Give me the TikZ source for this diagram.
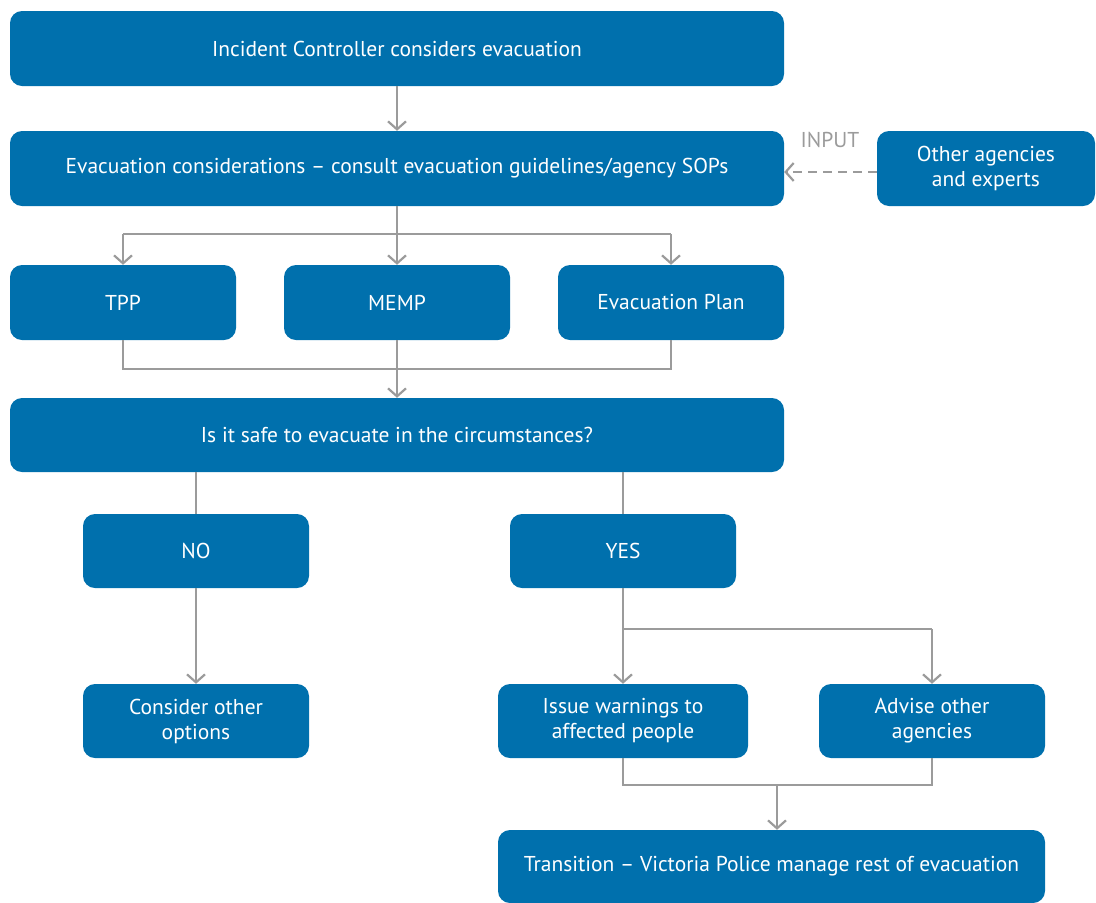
\documentclass[tikz,border=0pt]{standalone}
\usepackage{fontspec}
\setmainfont{PT Sans}
\usetikzlibrary{arrows.meta}
\definecolor{boxblue}{RGB}{0,112,173}
\definecolor{linegray}{RGB}{155,155,155}
\tikzset{
  box/.style={draw=none, fill=boxblue, rounded corners=12pt, text=white, inner sep=0pt, align=center,
    font=\fontsize{21.5}{25}\selectfont},
  conn/.style={draw=linegray, line width=2.4pt},
  arr/.style={conn, -{Straight Barb[length=8pt,width=18pt,line width=2.2pt]}},
}
\begin{document}
\begin{tikzpicture}[x=1pt,y=-1pt]
\useasboundingbox (0,0) rectangle (1096,903);
% boxes
\node[box, minimum width=774pt, minimum height=75pt] (inc) at (397,48.5) {Incident Controller considers evacuation};
\node[box, minimum width=774pt, minimum height=75pt] (cons) at (397,168.5) {Evacuation considerations -- consult evacuation guidelines/agency SOPs};
\node[box, minimum width=218pt, minimum height=75pt] (other) at (986,168.5) {Other agencies\\and experts};
\node[box, minimum width=226pt, minimum height=75pt] (tpp) at (123,302.5) {TPP};
\node[box, minimum width=226pt, minimum height=75pt] (memp) at (397,302.5) {MEMP};
\node[box, minimum width=226pt, minimum height=75pt] (plan) at (671,302.5) {Evacuation Plan};
\node[box, minimum width=774pt, minimum height=74pt] (safe) at (397,435) {Is it safe to evacuate in the circumstances?};
\node[box, minimum width=226pt, minimum height=74pt] (no) at (196,551) {NO};
\node[box, minimum width=226pt, minimum height=74pt] (yes) at (623,551) {YES};
\node[box, minimum width=226pt, minimum height=74pt] (consider) at (196,721) {Consider other\\options};
\node[box, minimum width=250pt, minimum height=74pt] (issue) at (623,721) {Issue warnings to\\affected people};
\node[box, minimum width=226pt, minimum height=74pt] (advise) at (932,721) {Advise other\\agencies};
\node[box, minimum width=547pt, minimum height=73pt] (trans) at (771.5,866.5) {Transition -- Victoria Police manage rest of evacuation};
% connector coordinates
\coordinate (s1) at (397,234);
\coordinate (s1l) at (123,234);
\coordinate (s1r) at (671,234);
\coordinate (j1l) at (123,369);
\coordinate (j1r) at (671,369);
\coordinate (j1m) at (397,369);
\coordinate (s2) at (623,629);
\coordinate (s2r) at (932,629);
\coordinate (j2l) at (623,785);
\coordinate (j2r) at (932,785);
\coordinate (j2m) at (777,785);
% connectors
\draw[arr] (inc.south) -- (cons.north);
\draw[conn] (cons.south) -- (s1);
\draw[conn] (s1l) -- (s1r);
\draw[arr] (s1l) -- (tpp.north);
\draw[arr] (s1) -- (memp.north);
\draw[arr] (s1r) -- (plan.north);
\draw[conn] (tpp.south) -- (j1l) -- (j1r) -- (plan.south);
\draw[arr] (memp.south) -- (safe.north);
\draw[conn] (safe.south -| no.north) -- (no.north);
\draw[conn] (safe.south -| yes.north) -- (yes.north);
\draw[arr] (no.south) -- (consider.north);
\draw[conn] (yes.south) -- (s2) -- (s2r);
\draw[arr] (s2) -- (issue.north);
\draw[arr] (s2r) -- (advise.north);
\draw[conn] (issue.south) -- (j2l) -- (j2r) -- (advise.south);
\draw[arr] (j2m) -- (trans.north -| j2m);
\draw[arr, dashed, dash pattern=on 9pt off 6pt] (other.west |- 0,172) -- (cons.east |- 0,172);
\node[text=linegray, font=\fontsize{21.5}{25}\selectfont, inner sep=0pt] (input) at (830,140) {INPUT};
\end{tikzpicture}
\end{document}
